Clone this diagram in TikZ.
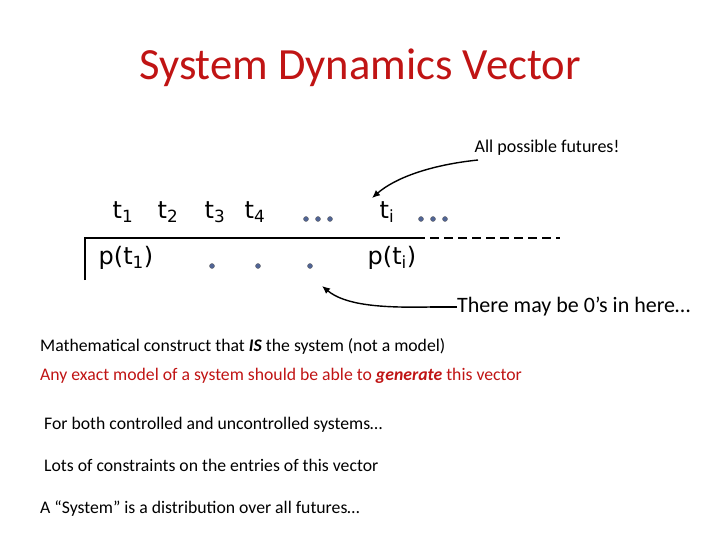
\documentclass[tikz,border=0pt]{standalone}
\usepackage{fontspec}
\usetikzlibrary{arrows.meta}
\setmainfont{Carlito}
\newfontfamily\cfont{DejaVu Sans}
\definecolor{tred}{RGB}{192,20,20}
\definecolor{dotc}{RGB}{80,100,150}
\begin{document}
\begin{tikzpicture}[x=1pt,y=-1pt,
  vec/.style={font=\cfont\fontsize{24}{28}\selectfont,inner sep=0pt},
  body/.style={anchor=west,inner sep=0pt,font=\fontsize{17.7}{20}\selectfont},
  pt/.style={circle,fill=dotc,draw=black!60,inner sep=0pt,minimum size=5pt},
  arr/.style={-{Latex[length=8pt,width=7pt]},line width=1.4pt}]
\useasboundingbox (0,0) rectangle (720,540);
\node (title) at (360,68) {\color{tred}\fontsize{44.6}{48}\selectfont System Dynamics Vector};
\node (fut) at (547,148) {\fontsize{18}{20}\selectfont All possible futures!};
\node[vec] (t1) at (123,212) {t\textsubscript{1}};
\node[vec] (t2) at (168,212) {t\textsubscript{2}};
\node[vec] (t3) at (215,212) {t\textsubscript{3}};
\node[vec] (t4) at (255,212) {t\textsubscript{4}};
\node[pt] (d1) at (306,219) {};\node[pt] (d2) at (318,219) {};\node[pt] (d3) at (330,219) {};
\node[vec] (ti) at (387,212) {t\textsubscript{i}};
\node[pt] (e1) at (421,219) {};\node[pt] (e2) at (433,219) {};\node[pt] (e3) at (445,219) {};
\node[vec] (p1) at (126,258) {p(t\textsubscript{1})};
\node[pt] (f1) at (212,266) {};\node[pt] (f2) at (258,266) {};\node[pt] (f3) at (310,266) {};
\node[vec] (pi) at (392,258) {p(t\textsubscript{i})};
\coordinate (a) at (85,238); \coordinate (b) at (85,280);
\coordinate (c) at (416,238); \coordinate (d) at (560,238);
\draw[line width=1.5pt] (b) -- (a) -- (c);
\draw[line width=1.5pt,dash pattern=on 9pt off 5pt] (c) -- (d);
\coordinate (s1) at (478,160);
\coordinate (tip) at (372,198);
\draw[arr] (s1) .. controls (430,165) and (395,178) .. (tip);
\node[anchor=west,inner sep=0pt] (zero) at (457,307) {\fontsize{22}{24}\selectfont There may be 0’s in here…};
\coordinate (z1) at (430,307);
\coordinate (z2) at (322,286);
\draw[line width=1.4pt] (zero.west) -- (z1);
\draw[arr] (z1) .. controls (380,308) and (345,305) .. (z2);
\node[body] (l1) at (40,346) {Mathematical construct that \textbf{\textit{IS}} the system (not a model)};
\node[body] (l2) at (40,376) {\color{tred}Any exact model of a system should be able to \textbf{\textit{generate}} this vector};
\node[body] (l3) at (44,425) {For both controlled and uncontrolled systems…};
\node[body] (l4) at (44,465) {Lots of constraints on the entries of this vector};
\node[body] (l5) at (40,509) {A “System” is a distribution over all futures…};
\end{tikzpicture}
\end{document}
